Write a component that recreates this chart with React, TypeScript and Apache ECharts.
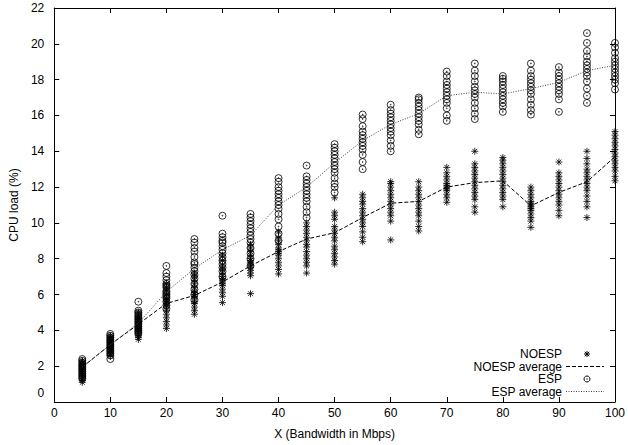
import React, { useEffect, useRef } from "react";
import * as echarts from "echarts";

const xValues = [5, 10, 15, 20, 25, 30, 35, 40, 45, 50, 55, 60, 65, 70, 75, 80, 85, 90, 95, 100];

const noespSamples: number[][] = [
  [1.1, 1.2, 1.3, 1.4, 1.5, 1.6, 1.7, 1.8, 1.85, 1.9, 2.0, 2.05, 2.1, 2.2, 2.3],
  [2.6, 2.7, 2.8, 2.9, 3.0, 3.05, 3.1, 3.2, 3.3, 3.35, 3.4, 3.5, 3.6, 3.7],
  [3.5, 3.6, 3.7, 3.8, 3.9, 4.0, 4.1, 4.2, 4.3, 4.4, 4.5, 4.6, 4.7, 4.8, 5.0],
  [4.1, 4.3, 4.5, 4.7, 4.9, 5.1, 5.3, 5.4, 5.5, 5.6, 5.7, 5.8, 6.0, 6.2, 6.4, 6.6],
  [4.9, 5.1, 5.3, 5.5, 5.6, 5.8, 5.9, 6.0, 6.1, 6.2, 6.4, 6.6, 6.8, 7.0, 7.2],
  [5.55, 5.9, 6.1, 6.3, 6.5, 6.6, 6.7, 6.8, 6.9, 7.0, 7.2, 7.4, 7.6, 7.9, 8.2],
  [6.05, 7.05, 7.2, 7.35, 7.5, 7.6, 7.7, 7.8, 7.9, 8.0, 8.2, 8.4, 8.6, 8.8],
  [7.15, 7.4, 7.6, 7.8, 8.0, 8.2, 8.3, 8.4, 8.5, 8.6, 8.8, 9.0, 9.2, 9.5],
  [7.2, 7.6, 7.8, 8.0, 8.2, 8.4, 8.65, 8.8, 9.0, 9.2, 9.4, 9.6, 9.8, 10.0],
  [7.7, 7.9, 8.1, 8.3, 8.5, 8.7, 9.0, 9.2, 9.4, 9.6, 9.8, 10.2, 10.4, 10.6, 11.4],
  [8.95, 9.2, 9.5, 9.8, 10.0, 10.2, 10.4, 10.6, 10.8, 11.05, 11.2, 11.4, 11.6],
  [9.05, 10.1, 10.4, 10.6, 10.8, 11.0, 11.2, 11.4, 11.6, 11.8, 12.0, 12.2, 12.3],
  [9.55, 9.8, 10.1, 10.4, 10.6, 10.8, 11.0, 11.2, 11.4, 11.6, 11.8, 12.0, 12.3],
  [11.15, 11.4, 11.6, 11.8, 11.9, 12.0, 12.1, 12.2, 12.4, 12.6, 12.8, 13.1],
  [10.6, 10.9, 11.3, 11.5, 11.7, 11.9, 12.1, 12.3, 12.5, 12.7, 12.9, 13.1, 13.3, 14.0],
  [10.9, 11.3, 11.5, 11.7, 11.9, 12.1, 12.3, 12.5, 12.7, 12.9, 13.1, 13.3, 13.5, 13.65],
  [9.75, 10.1, 10.3, 10.5, 10.7, 10.8, 10.9, 11.0, 11.1, 11.2, 11.4, 11.6, 11.8, 12.0],
  [10.4, 10.7, 11.0, 11.2, 11.4, 11.6, 11.8, 12.0, 12.2, 12.4, 12.6, 12.8, 13.4],
  [10.3, 10.9, 11.2, 11.5, 11.8, 12.0, 12.2, 12.4, 12.6, 12.8, 13.0, 13.3, 13.6, 14.0],
  [12.35, 12.6, 12.9, 13.1, 13.3, 13.5, 13.7, 13.9, 14.1, 14.3, 14.5, 14.7, 14.9, 15.1],
];

const espSamples: number[][] = [
  [1.3, 1.4, 1.5, 1.6, 1.7, 1.8, 1.9, 2.0, 2.1, 2.2, 2.3, 2.4],
  [2.4, 2.6, 2.7, 2.8, 2.9, 3.0, 3.1, 3.2, 3.3, 3.4, 3.5, 3.6, 3.7, 3.8],
  [3.8, 3.9, 4.0, 4.1, 4.2, 4.3, 4.4, 4.5, 4.6, 4.7, 4.8, 4.9, 5.0, 5.1, 5.6],
  [5.2, 5.4, 5.6, 5.8, 5.9, 6.0, 6.1, 6.2, 6.4, 6.5, 6.6, 6.8, 7.0, 7.2, 7.6],
  [5.7, 6.0, 6.3, 6.6, 6.9, 7.1, 7.3, 7.5, 7.7, 7.8, 8.1, 8.4, 8.6, 8.9, 9.1],
  [7.0, 7.3, 7.5, 7.7, 7.9, 8.1, 8.3, 8.5, 8.7, 8.9, 9.0, 9.2, 9.4, 10.4],
  [7.6, 8.0, 8.3, 8.6, 8.9, 9.1, 9.3, 9.5, 9.7, 9.9, 10.1, 10.3, 10.5],
  [9.0, 9.4, 9.8, 10.2, 10.5, 10.8, 11.0, 11.2, 11.4, 11.6, 11.8, 12.0, 12.3, 12.5],
  [10.3, 10.6, 10.9, 11.2, 11.4, 11.6, 11.8, 12.0, 12.2, 12.4, 12.6, 13.2],
  [11.7, 12.0, 12.2, 12.5, 12.8, 13.0, 13.2, 13.4, 13.6, 13.8, 14.0, 14.2, 14.4],
  [13.0, 13.4, 13.8, 14.1, 14.3, 14.5, 14.7, 14.9, 15.1, 15.4, 15.8, 16.05],
  [14.0, 14.3, 14.6, 14.9, 15.1, 15.3, 15.5, 15.7, 15.9, 16.1, 16.3, 16.6],
  [14.95, 15.2, 15.5, 15.7, 15.9, 16.1, 16.3, 16.5, 16.7, 16.9, 17.0],
  [15.7, 16.0, 16.4, 16.7, 16.9, 17.1, 17.3, 17.5, 17.7, 17.9, 18.2, 18.45],
  [15.8, 16.1, 16.4, 16.7, 17.0, 17.2, 17.4, 17.6, 17.9, 18.2, 18.5, 18.9],
  [16.2, 16.5, 16.7, 16.9, 17.1, 17.3, 17.5, 17.7, 17.9, 18.05, 18.2],
  [16.05, 16.3, 16.6, 16.9, 17.2, 17.4, 17.6, 17.8, 18.0, 18.2, 18.5, 18.9],
  [16.2, 16.9, 17.2, 17.4, 17.6, 17.8, 18.0, 18.2, 18.4, 18.7],
  [16.7, 17.1, 17.5, 17.9, 18.2, 18.4, 18.6, 18.8, 19.0, 19.3, 19.6, 20.05, 20.6],
  [17.45, 17.8, 18.0, 18.2, 18.4, 18.6, 18.8, 19.0, 19.2, 19.5, 19.8, 20.05],
];

const noespAverage = [1.95, 3.2, 4.35, 5.5, 5.95, 6.7, 7.6, 8.4, 9.1, 9.45, 10.3, 11.1, 11.2, 12.0, 12.25, 12.35, 10.95, 11.7, 12.3, 13.7];
const espAverage = [1.95, 3.2, 4.4, 6.15, 7.45, 8.5, 9.3, 11.0, 12.0, 13.35, 14.6, 15.5, 16.1, 17.1, 17.3, 17.2, 17.5, 17.85, 18.5, 18.8];

const legendLabels = ["NOESP", "NOESP average", "ESP", "ESP average"];

const FONT = "Liberation Sans, Arial, Helvetica, sans-serif";

const ASTERISK = "path://M0,5L10,5M5,0L5,10M1.5,1.5L8.5,8.5M1.5,8.5L8.5,1.5";
const CIRCLE_DOT =
  "path://M1,6A5,5,0,1,1,11,6A5,5,0,1,1,1,6ZM5.4,6A0.6,0.6,0,1,1,6.6,6A0.6,0.6,0,1,1,5.4,6Z";

export default function App() {
  const ref = useRef<HTMLDivElement>(null);

  useEffect(() => {
    if (!ref.current) return;
    const chart = echarts.init(ref.current, undefined, { renderer: "svg" });

    const noespData = noespSamples.flatMap((col, i) => col.map((v) => [xValues[i], v]));
    const espData = espSamples.flatMap((col, i) => col.map((v) => [xValues[i], v]));
    const noespAvgData = xValues.map((x, i) => [x, noespAverage[i]]);
    const espAvgData = xValues.map((x, i) => [x, espAverage[i]]);

    const axisLine = { show: true, onZero: false, lineStyle: { color: "#000", width: 1 } };
    const axisTick = { show: true, inside: true, length: 5, lineStyle: { color: "#000", width: 1 } };

    const legendX = 562;
    const legendRows = [354, 366.5, 379, 391.5];
    const sampleX1 = 566;
    const sampleX2 = 604;
    const sampleXC = 587;

    const graphic: any[] = [];
    legendLabels.forEach((t, i) => {
      graphic.push({
        type: "text",
        x: legendX,
        y: legendRows[i],
        style: {
          text: t,
          align: "right",
          verticalAlign: "middle",
          fontSize: 12,
          fontFamily: FONT,
          fill: "#000",
        },
      });
    });
    const ay = legendRows[0];
    const r = 3;
    [
      [-r, 0, r, 0],
      [0, -r, 0, r],
      [-r * 0.75, -r * 0.75, r * 0.75, r * 0.75],
      [-r * 0.75, r * 0.75, r * 0.75, -r * 0.75],
    ].forEach((s) => {
      graphic.push({
        type: "line",
        shape: { x1: sampleXC + s[0], y1: ay + s[1], x2: sampleXC + s[2], y2: ay + s[3] },
        style: { stroke: "#000", lineWidth: 1 },
      });
    });
    graphic.push({
      type: "line",
      shape: { x1: sampleX1, y1: legendRows[1], x2: sampleX2, y2: legendRows[1] },
      style: { stroke: "#000", lineWidth: 1, lineDash: [4, 2] },
    });
    graphic.push({
      type: "circle",
      shape: { cx: sampleXC, cy: legendRows[2], r: 3 },
      style: { stroke: "#000", fill: "none", lineWidth: 1 },
    });
    graphic.push({
      type: "circle",
      shape: { cx: sampleXC, cy: legendRows[2], r: 0.6 },
      style: { fill: "#000" },
    });
    graphic.push({
      type: "line",
      shape: { x1: sampleX1, y1: legendRows[3], x2: sampleX2, y2: legendRows[3] },
      style: { stroke: "#444", lineWidth: 1, lineDash: [1, 1.5] },
    });

    chart.setOption({
      animation: false,
      backgroundColor: "#fff",
      grid: { left: 49, right: 8, top: 8, bottom: 41, containLabel: false },
      xAxis: [
        {
          type: "value",
          min: 0,
          max: 100,
          interval: 10,
          position: "bottom",
          axisLine,
          axisTick,
          splitLine: { show: false },
          axisLabel: { color: "#000", fontSize: 12, fontFamily: FONT, margin: 5 },
          name: "X (Bandwidth in Mbps)",
          nameLocation: "middle",
          nameGap: 26,
          nameTextStyle: { color: "#000", fontSize: 12, fontFamily: FONT },
        },
        {
          type: "value",
          min: 0,
          max: 100,
          interval: 10,
          position: "top",
          axisLine,
          axisTick,
          splitLine: { show: false },
          axisLabel: { show: false },
        },
      ],
      yAxis: [
        {
          type: "value",
          min: 0,
          max: 22,
          interval: 2,
          position: "left",
          axisLine,
          axisTick,
          splitLine: { show: false },
          axisLabel: {
            color: "#000",
            fontSize: 12,
            fontFamily: FONT,
            margin: 10,
            formatter: (v: number) => (v === 0 ? "{z|0}" : String(v)),
            rich: { z: { fontSize: 12, fontFamily: FONT, color: "#000", padding: [0, 0, 18, 0] } },
          },
          name: "CPU load (%)",
          nameLocation: "middle",
          nameGap: 30,
          nameTextStyle: { color: "#000", fontSize: 12, fontFamily: FONT },
        },
        {
          type: "value",
          min: 0,
          max: 22,
          interval: 2,
          position: "right",
          axisLine,
          axisTick,
          splitLine: { show: false },
          axisLabel: { show: false },
        },
      ],
      graphic,
      series: [
        {
          name: "NOESP",
          type: "scatter",
          data: noespData,
          symbol: ASTERISK,
          symbolSize: 7,
          itemStyle: { color: "transparent", borderColor: "#000", borderWidth: 1 },
          emphasis: { disabled: true },
        },
        {
          name: "ESP",
          type: "scatter",
          data: espData,
          symbol: CIRCLE_DOT,
          symbolSize: 7,
          itemStyle: { color: "transparent", borderColor: "#000", borderWidth: 1 },
          emphasis: { disabled: true },
        },
        {
          name: "NOESP average",
          type: "line",
          data: noespAvgData,
          showSymbol: false,
          symbol: "none",
          lineStyle: { color: "#000", width: 1, type: [4, 2] },
          emphasis: { disabled: true },
        },
        {
          name: "ESP average",
          type: "line",
          data: espAvgData,
          showSymbol: false,
          symbol: "none",
          lineStyle: { color: "#444", width: 1, type: [1, 1.5] },
          emphasis: { disabled: true },
        },
      ],
    });

    return () => chart.dispose();
  }, []);

  return (
    <div
      ref={ref}
      style={{ position: "fixed", left: 0, top: 0, width: 628, height: 445, background: "#fff" }}
    />
  );
}
